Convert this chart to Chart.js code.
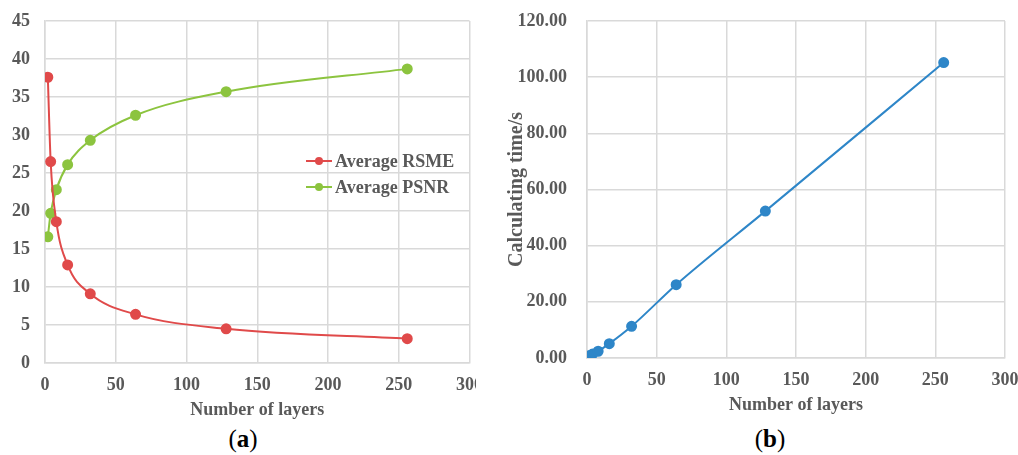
<!DOCTYPE html>
<html>
<head>
<meta charset="utf-8">
<script src="https://cdn.jsdelivr.net/npm/chart.js@4"></script>
<style>
  body { margin: 0; background: #fff; }
  #wrap { position: relative; width: 1018px; height: 455px; overflow: hidden; }
  .box { position: absolute; top: 0; }
  .cap { position: absolute; top: 425px; font: 25px "Liberation Serif", serif; color: #000; transform: translateX(-50%); }
</style>
</head>
<body>
<div id="wrap">
  <div class="box" style="left:0;width:476px;height:425px"><canvas id="chartA"></canvas></div>
  <div class="box" style="left:500px;width:518px;height:420px"><canvas id="chartB"></canvas></div>
  <div class="cap" style="left:243px">(<b>a</b>)</div>
  <div class="cap" style="left:770px">(<b>b</b>)</div>
</div>
<script>
// number of layers on the x axis
const layers = [2, 4, 8, 16, 32, 64, 128, 256];
// panel (a)
const rsme = [37.6, 26.5, 18.6, 12.9, 9.1, 6.4, 4.5, 3.2];
const psnr = [16.6, 19.7, 22.8, 26.1, 29.3, 32.6, 35.7, 38.7];
// panel (b)
const calcTime = [0.9, 1.4, 2.4, 5.1, 11.3, 26.1, 52.3, 105.2];

const textColor = '#595959';
const gridColor = '#d9d9d9';
const fontFam = '"Liberation Serif", "Times New Roman", serif';

function toPoints(xs, ys) {
  return xs.map(function (x, i) { return { x: x, y: ys[i] }; });
}

// legend drawn inside the plot area
var insideLegend = {
  id: 'insideLegend',
  afterDraw: function (chart, args, opts) {
    if (!opts.display) return;
    var ctx = chart.ctx;
    ctx.save();
    ctx.font = 'bold 18px ' + fontFam;
    ctx.textBaseline = 'middle';
    chart.data.datasets.forEach(function (ds, i) {
      var y = opts.y + i * 26;
      ctx.strokeStyle = ds.borderColor;
      ctx.lineWidth = 2;
      ctx.beginPath();
      ctx.moveTo(opts.x, y);
      ctx.lineTo(opts.x + 26, y);
      ctx.stroke();
      ctx.fillStyle = ds.borderColor;
      ctx.beginPath();
      ctx.arc(opts.x + 13, y, 4, 0, Math.PI * 2);
      ctx.fill();
      ctx.fillStyle = textColor;
      ctx.fillText(ds.label, opts.x + 29, y + 1);
    });
    ctx.restore();
  }
};

function lineSet(label, data, color) {
  return {
    label: label,
    data: data,
    borderColor: color,
    backgroundColor: color,
    borderWidth: 2,
    pointRadius: 4.5,
    pointHoverRadius: 4.5,
    cubicInterpolationMode: 'monotone',
    fill: false
  };
}

function makeOptions(cfg) {
  return {
    responsive: true,
    maintainAspectRatio: false,
    animation: false,
    layout: { padding: cfg.padding },
    plugins: {
      legend: { display: false },
      tooltip: { enabled: false },
      insideLegend: cfg.legend
    },
    scales: {
      x: {
        type: 'linear',
        min: 0,
        max: 300,
        ticks: { stepSize: 50, padding: 12, color: textColor, font: { family: fontFam, size: 18, weight: 'bold' } },
        grid: { color: gridColor, lineWidth: 1.5, drawTicks: false },
        border: { color: gridColor, width: 1.5 },
        title: { display: true, text: 'Number of layers', color: textColor, padding: { top: 4 }, font: { family: fontFam, size: 18, weight: 'bold' } },
        afterFit: function (s) { s.height = cfg.xHeight; s.paddingRight = 0; s.paddingLeft = 0; }
      },
      y: {
        min: 0,
        max: cfg.yMax,
        ticks: {
          stepSize: cfg.yStep,
          padding: cfg.yPad,
          color: textColor,
          font: { family: fontFam, size: 18, weight: 'bold' },
          callback: cfg.yFormat
        },
        grid: { color: gridColor, lineWidth: 1.5, drawTicks: false },
        border: { color: gridColor, width: 1.5 },
        title: cfg.yTitle,
        afterFit: function (s) { s.width = cfg.yWidth; s.paddingTop = 0; s.paddingBottom = 0; }
      }
    }
  };
}

new Chart(document.getElementById('chartA').getContext('2d'), {
  type: 'line',
  data: {
    datasets: [
      lineSet('Average RSME', toPoints(layers, rsme), '#e04a4a'),
      lineSet('Average PSNR', toPoints(layers, psnr), '#8cc43f')
    ]
  },
  options: makeOptions({
    padding: { top: 21, right: 2, left: 0, bottom: 0 },
    xHeight: 62,
    yWidth: 45,
    yPad: 15,
    yMax: 45,
    yStep: 5,
    yFormat: function (v) { return v; },
    yTitle: { display: false },
    legend: { display: true, x: 306, y: 161 }
  }),
  plugins: [insideLegend]
});

new Chart(document.getElementById('chartB').getContext('2d'), {
  type: 'line',
  data: {
    datasets: [
      lineSet('Calculating time', toPoints(layers, calcTime), '#2e86c8')
    ]
  },
  options: makeOptions({
    padding: { top: 21, right: 13, left: 0, bottom: 0 },
    xHeight: 62,
    yWidth: 87,
    yPad: 20,
    yMax: 120,
    yStep: 20,
    yFormat: function (v) { return v.toFixed(2); },
    yTitle: { display: true, text: 'Calculating time/s', color: textColor, padding: { top: 5, bottom: 0 }, font: { family: fontFam, size: 20, weight: 'bold' } },
    legend: { display: false }
  }),
  plugins: [insideLegend]
});
</script>
</body>
</html>
